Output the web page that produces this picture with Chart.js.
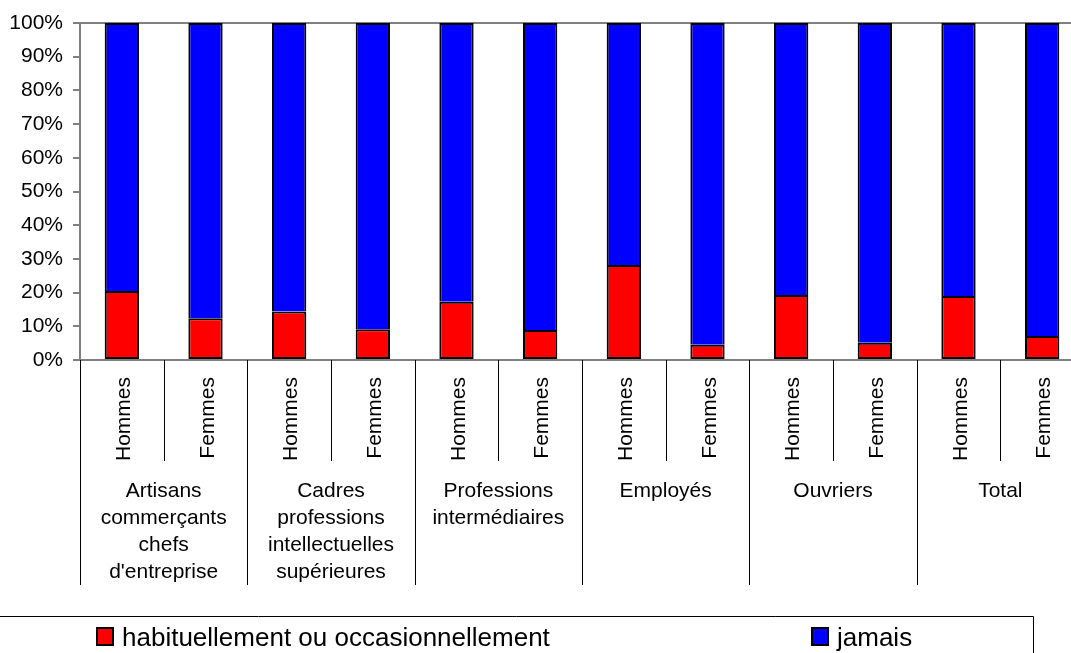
<!DOCTYPE html>
<html>
<head>
<meta charset="utf-8">
<script src="https://cdn.jsdelivr.net/npm/chart.js@4.4.1/dist/chart.umd.min.js"></script>
<style>
  html, body { margin: 0; padding: 0; background: #fff; overflow: hidden; }
  #wrap { width: 1084px; height: 653px; }
</style>
</head>
<body>
<div id="wrap"><canvas id="chart" width="1084" height="653"></canvas></div>
<script>
// Data
const sexLabels = ['Hommes', 'Femmes', 'Hommes', 'Femmes', 'Hommes', 'Femmes',
                   'Hommes', 'Femmes', 'Hommes', 'Femmes', 'Hommes', 'Femmes'];
const groupLabels = [
    ['Artisans', 'commerçants', 'chefs', "d'entreprise"],
    ['Cadres', 'professions', 'intellectuelles', 'supérieures'],
    ['Professions', 'intermédiaires'],
    ['Employés'],
    ['Ouvriers'],
    ['Total']
];
const habituel = [20.5, 12.4, 14.4, 9.1, 17.3, 8.9, 28.2, 4.5, 19.3, 5.1, 19.0, 7.1];
const jamais   = [79.5, 87.6, 85.6, 90.9, 82.7, 91.1, 71.8, 95.5, 80.7, 94.9, 81.0, 92.9];
const yTicks = [0, 10, 20, 30, 40, 50, 60, 70, 80, 90, 100];
const legendLabels = ['habituellement ou occasionnellement', 'jamais'];

const FONT = "'Liberation Sans', Arial, sans-serif";

// draws the two-level x labels, separators and the legend box
const extras = {
    id: 'extras',
    afterDraw(chart) {
        const ctx = chart.ctx;
        const x = chart.scales.x;
        const bottom = chart.chartArea.bottom;
        ctx.save();

        // separators below the axis
        ctx.strokeStyle = '#000';
        ctx.lineWidth = 1;
        for (let b = 0; b <= sexLabels.length; b++) {
            const px = Math.round(x.getPixelForValue(b - 0.5)) + 0.5;
            ctx.beginPath();
            ctx.moveTo(px, bottom);
            ctx.lineTo(px, b % 2 === 0 ? 585 : 461);
            ctx.stroke();
        }

        // Hommes / Femmes rotated
        ctx.fillStyle = '#000';
        ctx.font = '21px ' + FONT;
        ctx.textAlign = 'right';
        ctx.textBaseline = 'alphabetic';
        sexLabels.forEach((lab, i) => {
            const cx = x.getPixelForValue(i);
            ctx.save();
            ctx.translate(cx + 8, 377);
            ctx.rotate(-Math.PI / 2);
            ctx.fillText(lab, 0, 0);
            ctx.restore();
        });

        // group labels
        ctx.textAlign = 'center';
        groupLabels.forEach((lines, g) => {
            const cx = x.getPixelForValue(2 * g + 0.5);
            lines.forEach((l, k) => ctx.fillText(l, cx, 497 + k * 27));
        });

        // legend box
        ctx.beginPath();
        ctx.moveTo(0, 616.5);
        ctx.lineTo(1033.5, 616.5);
        ctx.lineTo(1033.5, 660);
        ctx.stroke();

        ctx.font = '26px ' + FONT;
        ctx.textAlign = 'left';
        const items = [
            { x: 97, color: '#FF0000', text: legendLabels[0] },
            { x: 812, color: '#0000FF', text: legendLabels[1] }
        ];
        items.forEach(it => {
            ctx.fillStyle = it.color;
            ctx.fillRect(it.x, 628, 16, 17);
            ctx.lineWidth = 2;
            ctx.strokeStyle = '#000';
            ctx.strokeRect(it.x, 628, 16, 17);
            ctx.fillStyle = '#000';
            ctx.fillText(it.text, it.x + 25, 646);
        });
        ctx.restore();
    }
};

const ctx = document.getElementById('chart').getContext('2d');
new Chart(ctx, {
    type: 'bar',
    data: {
        labels: sexLabels,
        datasets: [
            {
                label: legendLabels[0],
                data: habituel,
                backgroundColor: '#FF0000',
                borderColor: '#000',
                borderWidth: 2,
                borderSkipped: false,
                barPercentage: 0.41,
                categoryPercentage: 1
            },
            {
                label: legendLabels[1],
                data: jamais,
                backgroundColor: '#0000FF',
                borderColor: '#000',
                borderWidth: 2,
                borderSkipped: 'start',
                barPercentage: 0.41,
                categoryPercentage: 1
            }
        ]
    },
    options: {
        responsive: false,
        animation: false,
        layout: { padding: { top: 23, left: 0, right: 0, bottom: 0 } },
        plugins: {
            legend: { display: false },
            tooltip: { enabled: false }
        },
        scales: {
            x: {
                stacked: true,
                grid: { display: false },
                ticks: { display: false },
                border: { display: true, color: '#808080', width: 2 },
                afterFit(scale) { scale.height = 293; }
            },
            y: {
                stacked: true,
                min: 0,
                max: 100,
                afterBuildTicks(scale) { scale.ticks = yTicks.map(v => ({ value: v })); },
                ticks: {
                    color: '#000',
                    font: { family: FONT, size: 21 },
                    padding: 10,
                    callback: v => v + '%'
                },
                grid: {
                    color: c => c.tick && c.tick.value === 100 ? '#808080' : 'rgba(0,0,0,0)',
                    lineWidth: 2,
                    tickColor: '#808080',
                    tickLength: 7
                },
                border: { display: true, color: '#808080', width: 2 },
                afterFit(scale) { scale.width = 80; }
            }
        }
    },
    plugins: [extras]
});
</script>
</body>
</html>
